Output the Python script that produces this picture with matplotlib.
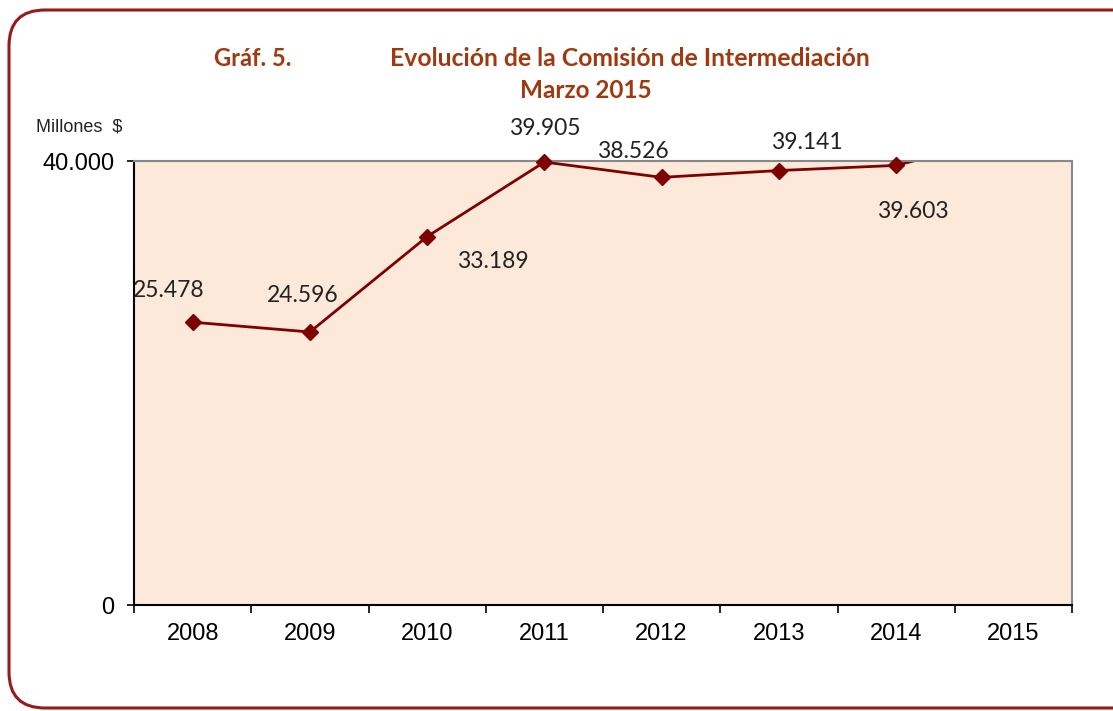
import matplotlib
matplotlib.use("Agg")
import matplotlib.pyplot as plt
from matplotlib.patches import FancyBboxPatch
from matplotlib.ticker import FixedLocator

years = ["2008", "2009", "2010", "2011", "2012", "2013", "2014", "2015"]
comision = [25478, 24596, 33189, 39905, 38526, 39141, 39603, 42300]  # 2015 sale del rango
ytick_vals = [0, 40000]

# desplazamiento (px) de cada etiqueta respecto a su punto
offsets = [(-24, 32), (-7, 36), (66, -25), (0, 34), (-29, 26), (28, 28), (17, -46)]

W, H = 1113, 711
fig = plt.figure(figsize=(W / 100, H / 100), dpi=100)

# marco redondeado (px, origen abajo-izquierda); el borde derecho queda fuera
marco = FancyBboxPatch((9, 3), 1150, 698, boxstyle="round,pad=0,rounding_size=36",
                       transform=None, fill=False, edgecolor="#951b1b", lw=2.2,
                       clip_on=False)
fig.patches.append(marco)

ax = fig.add_axes([134 / W, 1 - 605 / H, (1072 - 134) / W, (605 - 161) / H])
ax.set_facecolor("#fde9da")

x = list(range(len(years)))
color = "#7f0000"
ax.plot(x, comision, "-", color=color, lw=2)
mx = [i for i, v in zip(x, comision) if v <= 40000]
my = [v for v in comision if v <= 40000]
ax.plot(mx, my, "D", color=color, ms=8, clip_on=False, zorder=5)

for i, v in enumerate(my):
    dx, dy = offsets[i]
    ax.annotate(f"{v:,.0f}".replace(",", "."), (mx[i], v), xytext=(dx * 0.72, dy * 0.72),
                textcoords="offset points", ha="center", va="center",
                fontsize=16.5, family=["Lato", "DejaVu Sans"], color="#222222",
                annotation_clip=False)

ax.set_xlim(-0.5, len(years) - 0.5)
ax.set_ylim(0, 40000)
ax.yaxis.set_major_locator(FixedLocator(ytick_vals))
ax.set_yticklabels([f"{v:,.0f}".replace(",", ".") for v in ytick_vals],
                   family="Liberation Sans", fontsize=17)
ax.tick_params(axis="y", length=5, width=1.2, pad=9)

ax.set_xticks([i - 0.5 for i in range(len(years) + 1)])
ax.set_xticklabels([])
ax.set_xticks(x, minor=True)
ax.set_xticklabels(years, minor=True, family="Liberation Sans", fontsize=17)
ax.tick_params(axis="x", which="major", length=6, width=1.2, direction="out")
ax.tick_params(axis="x", which="minor", length=0, pad=13)

for s in ["left", "bottom"]:
    ax.spines[s].set_color("black")
    ax.spines[s].set_linewidth(1.5)
for s in ["top", "right"]:
    ax.spines[s].set_color("#888888")
    ax.spines[s].set_linewidth(1.5)

tcol = "#a0390f"
fig.text(253 / W, 1 - 58 / H, "Gráf. 5.", ha="center", va="center", color=tcol,
         fontsize=17, fontweight="bold", family="Lato")
fig.text(630 / W, 1 - 58 / H, "Evolución de la Comisión de Intermediación", ha="center",
         va="center", color=tcol, fontsize=17.8, fontweight="bold", family="Lato")
fig.text(586 / W, 1 - 90 / H, "Marzo 2015", ha="center", va="center", color=tcol,
         fontsize=17.5, fontweight="bold", family="Lato")
fig.text(36 / W, 1 - 127 / H, "Millones  $", ha="left", va="center", color="#222222",
         fontsize=13, family=["Liberation Sans Narrow", "Liberation Sans"])

fig.savefig("out.png", dpi=100)
